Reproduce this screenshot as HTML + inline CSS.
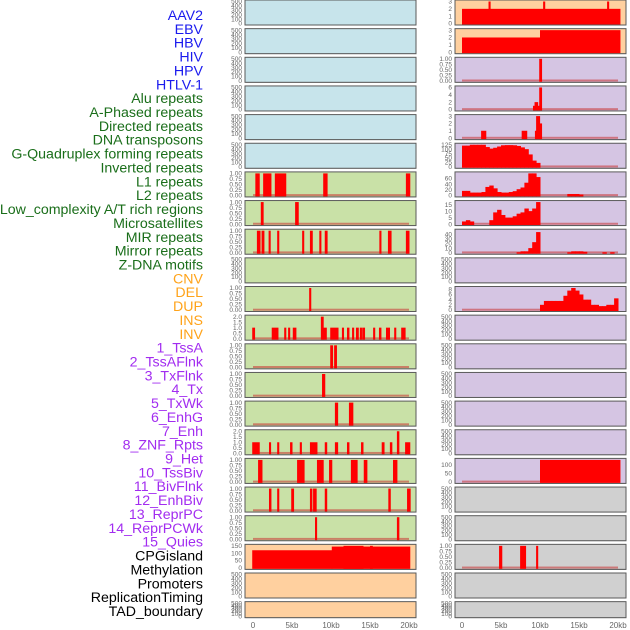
<!DOCTYPE html>
<html><head><meta charset="utf-8"><style>
html,body{margin:0;padding:0;background:#fff;}
svg{display:block;font-family:"Liberation Sans",sans-serif;}
</style></head><body>
<svg id="chart" width="630" height="630" viewBox="0 0 630 630" xmlns="http://www.w3.org/2000/svg"></svg>
<script>
// ---- labels ----
const labelNames = ["AAV2","EBV","HBV","HIV","HPV","HTLV-1","Alu repeats","A-Phased repeats","Directed repeats","DNA transposons","G-Quadruplex forming repeats","Inverted repeats","L1 repeats","L2 repeats","Low_complexity A/T rich regions","Microsatellites","MIR repeats","Mirror repeats","Z-DNA motifs","CNV","DEL","DUP","INS","INV","1_TssA","2_TssAFlnk","3_TxFlnk","4_Tx","5_TxWk","6_EnhG","7_Enh","8_ZNF_Rpts","9_Het","10_TssBiv","11_BivFlnk","12_EnhBiv","13_ReprPC","14_ReprPCWk","15_Quies","CPGisland","Methylation","Promoters","ReplicationTiming","TAD_boundary"];
const labelGroups = [6,13,5,15,5];
const groupColors = ["#1a1aee","#1a6e1a","#ffa31a","#a22cf0","#000000"];
// ---- x axis ----
const xTicks = [0,5,10,15,20];
const xTickLabels = ["0","5kb","10kb","15kb","20kb"];
// ---- tick sets ----
const ticksEmpty = [0,100,200,300,400,500];
const ticksUnit = [0,0.25,0.5,0.75,1];
const ticksTwo = [0,0.5,1,1.5,2];
const ticksThree = [0,1,2,3];
// ---- left column data: [startKb, endKb, value] ----
const l1Bars = [[0.3,0.8,1],[1.3,2.3,1],[2.8,4.2,1],[9.0,9.5,1],[19.6,20.1,1]];
const lowComplexBars = [[1.0,1.3,1],[5.4,5.8,1]];
const mirBars = [[0.5,0.9,1],[1.1,1.4,1],[2.0,2.2,1],[3.1,3.3,1],[6.3,6.5,1],[7.3,7.6,1],[8.5,8.7,1],[9.2,9.5,1],[16.2,16.4,1],[17.3,17.7,1],[19.6,20.0,1]];
const delBars = [[7.2,7.4,1]];
const insBars = [[-0.1,0.2,1],[2.4,3.2,1],[4.0,4.2,1],[4.5,4.7,1],[5.1,5.5,1],[8.7,9.0,2],[8.9,9.4,1],[9.9,10.9,1],[11.4,11.6,1],[12.05,12.3,1],[12.7,12.9,1],[13.2,13.5,1],[13.7,13.9,1],[14.0,14.3,1],[15.4,15.6,1],[16.15,16.4,1],[17.05,17.5,1],[18.1,18.3,1],[19.0,19.5,1]];
const tssABars = [[9.9,10.2,1],[10.4,10.7,1]];
const txFlnkBars = [[8.85,9.2,1]];
const txWkBars = [[10.5,10.85,1],[12.3,12.8,1]];
const enhBars = [[-0.1,0.8,1],[2.05,2.25,1],[3.1,3.3,1],[4.75,5.0,1],[6.0,6.2,1],[7.3,8.2,1],[9.2,9.45,1],[10.5,10.85,1],[12.05,12.3,1],[13.85,14.1,1],[16.5,16.8,1],[17.55,17.8,1],[18.45,18.7,2],[19.5,20.1,1]];
const hetBars = [[0.65,1.15,1],[5.65,6.55,1],[8.2,9.0,1],[9.75,10.1,1],[12.55,13.35,1],[14.2,14.6,1],[17.95,18.45,1]];
const bivFlnkBars = [[2.05,2.3,1],[3.1,3.3,1],[4.9,5.2,1],[7.3,7.55,1],[7.7,8.1,1],[9.2,9.45,1],[17.35,17.6,1],[19.75,20.15,1]];
const reprPCBars = [[7.95,8.15,1],[18.45,18.7,1]];
const quiesBars = [[-0.1,10.1,120],[10.1,20.1,145],[11.6,14.1,150],[15.0,15.3,150]];
// ---- right column data ----
const ebvBars = [[0,20.25,2],[3.4,3.6,3],[10.4,10.55,3],[18.6,18.8,3]];
const hivBars = [[0,10.0,2],[10.0,20.25,3]];
const htlvBars = [[9.9,10.2,1]];
const aPhasedBars = [[9.1,9.3,1],[9.3,9.7,2],[9.7,9.9,1],[9.9,10.2,6]];
const dnaTransBars = [[2.45,3.05,1],[7.65,8.3,1],[9.35,9.5,1],[9.5,9.95,3],[9.95,10.2,2]];
const invertedBins = [120,120,125,125,125,125,112,103,108,115,122,123,123,122,118,110,100,70,35,22,0,0,0,0,0,0,0,0,0,0,0,0,0,0,0,0,0,0,0,0];
const l2Bins = [16,16,10,10,10,12,30,35,25,12,10,10,12,15,22,28,45,78,78,65,0,0,0,0,0,0,0,5,5,5,3,0,0,0,0,0,0,0,0,0];
const microBins = [2,3,2,0,0,0,0,3,9,11,7,5,5,6,8,9,12,10,12,17,0,0,0,0,0,0,0,0,0,0,0,0,0,0,0,0,0,0,0,0];
const mirrorBins = [0,0,0,0,0,0,0,0,0,0,0,0,0,0,1,3,3,10,23,45,0,0,0,0,0,0,0,1,3,3,3,2,0,0,0,0,1,0,1,0];
const dupBins = [0,0,0,0,0,0,0,0,0,0,0,0,0,0,0,0,0,0,0,0,2,3.5,3.5,3.5,3.5,3.5,5.5,7.5,8.5,7.5,6,4,4,2,2,1.5,1.5,2,2,4.5];
const tssBivBars = [[10.0,20.25,130]];
const cpgBars = [[4.75,5.1,1],[7.45,8.15,1],[9.5,9.7,1]];
const binWidth = 0.5;

const BG = {blue:"#c7e4eb",green:"#c9e1a7",purple:"#d5c5e3",orange:"#ffd09f",gray:"#d0d0d0"};
function binsToBars(b){const out=[];b.forEach((v,i)=>{if(v>0)out.push([i*binWidth,(i+1)*binWidth,v]);});return out;}

const leftPanels = [
 ["blue",null,500,ticksEmpty],["blue",null,500,ticksEmpty],["blue",null,500,ticksEmpty],
 ["blue",null,500,ticksEmpty],["blue",null,500,ticksEmpty],["blue",null,500,ticksEmpty],
 ["green",l1Bars,1,ticksUnit],["green",lowComplexBars,1,ticksUnit],["green",mirBars,1,ticksUnit],
 ["green",null,500,ticksEmpty],["green",delBars,1,ticksUnit],["green",insBars,2,ticksTwo],
 ["green",tssABars,1,ticksUnit],["green",txFlnkBars,1,ticksUnit],["green",txWkBars,1,ticksUnit],
 ["green",enhBars,2,ticksTwo],["green",hetBars,1,ticksUnit],["green",bivFlnkBars,1,ticksUnit],
 ["green",reprPCBars,1,ticksUnit],["orange",quiesBars,150,[0,50,100,150]],
 ["orange",null,500,ticksEmpty],["orange",null,500,ticksEmpty]
];
const rightPanels = [
 ["orange",ebvBars,3,ticksThree],["orange",hivBars,3,ticksThree],["purple",htlvBars,1,ticksUnit],
 ["purple",aPhasedBars,6,[0,2,4,6]],["purple",dnaTransBars,3,ticksThree],
 ["purple",binsToBars(invertedBins),125,[0,25,50,75,100,125]],
 ["purple",binsToBars(l2Bins),78,[0,20,40,60]],
 ["purple",binsToBars(microBins),17,[0,5,10,15]],
 ["purple",binsToBars(mirrorBins),48,[0,10,20,30,40]],
 ["purple",null,500,ticksEmpty],
 ["purple",binsToBars(dupBins),8.5,[0,2,4,6,8]],
 ["purple",null,500,ticksEmpty],["purple",null,500,ticksEmpty],["purple",null,500,ticksEmpty],
 ["purple",null,500,ticksEmpty],["purple",null,500,ticksEmpty],
 ["purple",tssBivBars,130,[0,50,100]],
 ["gray",null,500,ticksEmpty],["gray",null,500,ticksEmpty],["gray",cpgBars,1,ticksUnit],
 ["gray",null,500,ticksEmpty],["gray",null,500,ticksEmpty]
];

const svg = document.getElementById("chart");
const NS = "http://www.w3.org/2000/svg";
function mk(tag, attrs, parent){const e=document.createElementNS(NS,tag);for(const k in attrs)e.setAttribute(k,attrs[k]);(parent||svg).appendChild(e);return e;}
const ROWH = 28.65;
function xs(col,kb){return (col?462:253)+kb*7.8;}
function fmt(t,ticks){const mx=ticks[ticks.length-1];if(mx===1)return t.toFixed(2);if(mx===2)return t.toFixed(1);return String(t);}

// labels
let li=0;
labelGroups.forEach((n,g)=>{for(let k=0;k<n;k++){
  const t=mk("text",{x:203,y:15+li*13.86+5,"text-anchor":"end","font-size":"14.2",fill:groupColors[g]});
  
  
  t.textContent=labelNames[li];li++;}});

function drawPanel(col,row,p){
  const [bg,bars,ymax,ticks]=p;
  const px=col?455:245, pw=171, top=row*ROWH, h=(row===21)?16:25;
  const g=mk("g",{});
  
  
  mk("rect",{x:px+0.5,y:top+0.5,width:pw,height:h,fill:"#999"},g);
  const r=mk("rect",{x:px,y:top,width:pw,height:h,fill:BG[bg],stroke:"#5a5a5a","stroke-width":1},g);
  
  
  const yv=v=>top+h-1.5-v/ymax*(h-3);
  ticks.forEach(t=>{
    const tt=mk("text",{x:px-3,y:yv(t)+2.2,"text-anchor":"end","font-size":"6.5",fill:"#666"},g);
    
    
    tt.textContent=fmt(t,ticks);
  });
  if(bars){
    const bl=mk("rect",{x:xs(col,0),y:top+h-2.8,width:xs(col,20)-xs(col,0),height:2,fill:"rgba(200,50,50,0.55)"},g);
    
    
    bars.forEach(b=>{
      const x0=xs(col,b[0]),x1=xs(col,b[1]);
      const y0=yv(b[2]);
      const br=mk("rect",{x:x0,y:y0,width:Math.max(1.6,x1-x0)+0.5,height:Math.max(0.5,yv(0)-y0+1),fill:"#ff0000"},g);
      
      
    });
  }
}
leftPanels.forEach((p,i)=>drawPanel(0,i,p));
rightPanels.forEach((p,i)=>drawPanel(1,i,p));

[0,1].forEach(col=>{
  xTicks.forEach((t,i)=>{
    const tx=mk("text",{x:xs(col,t),y:628,"text-anchor":"middle","font-size":"8",fill:"#666"});
    
    
    tx.textContent=xTickLabels[i];
  });
});
</script>
</body></html>
